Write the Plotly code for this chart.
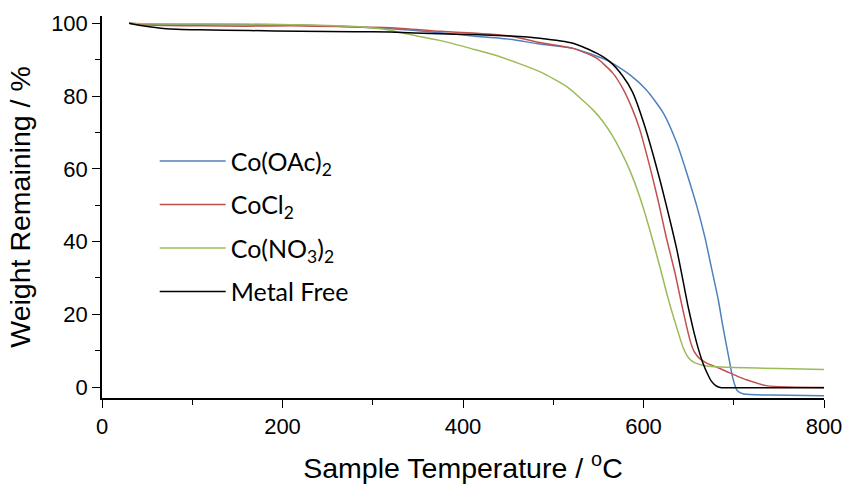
import plotly.graph_objects as go

# ---- data ----
names = ["Co(OAc)<sub>2</sub>", "CoCl<sub>2</sub>", "Co(NO<sub>3</sub>)<sub>2</sub>", "Metal Free"]
colors = ["#4F81BD", "#C0504D", "#9BBB59", "#000000"]

t_oac = [30, 45, 70, 110, 160, 210, 260, 320, 375, 411, 452, 485, 522, 559, 585, 603, 622, 637, 648, 659, 668, 675, 683, 688, 694, 699, 704, 711, 740, 800]
w_oac = [100, 99.8, 99.7, 99.7, 99.6, 99.6, 99.2, 98.5, 97.4, 96.5, 95.6, 94.3, 93.1, 89.9, 85.8, 81.7, 75.3, 67.0, 58.8, 49.8, 41.2, 33.1, 23.8, 16.6, 8.8, 2.4, -1.0, -1.9, -2.2, -2.4]

t_cl = [30, 45, 70, 110, 160, 210, 260, 320, 375, 411, 452, 485, 522, 548, 566, 577, 588, 596, 607, 616, 625, 635, 642, 648, 652, 656, 662, 670, 681, 692, 703, 714, 736, 760, 800]
w_cl = [100, 99.6, 99.4, 99.3, 99.2, 99.3, 99.1, 98.8, 97.8, 97.3, 96.5, 94.7, 93.1, 90.4, 86.3, 82.1, 76.2, 70.7, 60.6, 51.5, 41.4, 31.3, 23.1, 16.4, 12.5, 9.8, 7.9, 6.6, 5.5, 4.3, 3.1, 2.0, 0.4, 0.0, -0.1]

t_no3 = [30, 45, 70, 110, 160, 210, 250, 282, 319, 337, 374, 411, 441, 485, 515, 544, 555, 565, 575, 585, 596, 607, 618, 627, 637, 644, 650, 656, 670, 700, 750, 800]
w_no3 = [100, 99.9, 99.8, 99.8, 99.8, 99.6, 99.4, 99.1, 98.1, 97.1, 95.3, 92.9, 90.8, 86.7, 82.6, 76.2, 73.0, 69.3, 64.8, 59.5, 52.2, 43.2, 33.2, 24.6, 16.2, 10.8, 8.0, 6.8, 5.8, 5.4, 5.1, 4.8]

t_mf = [30, 45, 71, 108, 164, 219, 280, 319, 374, 411, 452, 485, 522, 548, 563, 577, 588, 600, 611, 620, 629, 637, 644, 649, 655, 660, 666, 671, 675, 680, 685, 700, 800]
w_mf = [100, 99.3, 98.5, 98.2, 98.0, 97.8, 97.7, 97.6, 97.1, 96.9, 96.5, 95.9, 94.5, 91.8, 89.4, 85.5, 81.0, 72.8, 63.6, 55.2, 46.2, 37.7, 29.0, 22.6, 16.0, 11.2, 6.5, 3.6, 1.7, 0.4, -0.1, -0.2, -0.2]

series_t = [t_oac, t_cl, t_no3, t_mf]
series_w = [w_oac, w_cl, w_no3, w_mf]

x_ticks = [0, 200, 400, 600, 800]
y_ticks = [0, 20, 40, 60, 80, 100]

fig = go.Figure()
for i in range(4):
    fig.add_trace(go.Scatter(
        x=series_t[i], y=series_w[i], mode="lines", name=names[i],
        legendgroup=f"g{i}",
        line=dict(color=colors[i], width=1.5, shape="spline", smoothing=0.6),
    ))

tick_font = dict(family="Liberation Sans, Arial", size=22, color="#000000")
title_font = dict(family="Liberation Sans, Arial", size=28.5, color="#000000")

fig.update_layout(
    width=848, height=488,
    margin=dict(l=102, r=24, t=16, b=90),
    plot_bgcolor="#FFFFFF", paper_bgcolor="#FFFFFF",
    showlegend=True,
    legend=dict(
        x=0.073, y=0.68, xanchor="left", yanchor="top",
        font=dict(family="Lato", size=25, color="#000000"),
        itemwidth=66, tracegroupgap=8,
        bgcolor="rgba(0,0,0,0)",
    ),
    xaxis=dict(
        range=[0, 800], tickvals=x_ticks, ticktext=[str(v) for v in x_ticks],
        showline=True, linecolor="#000000", linewidth=1.5, mirror=False,
        ticks="outside", ticklen=8, tickwidth=1.2, tickcolor="#000000",
        minor=dict(ticks="outside", ticklen=5, tickwidth=1, tickcolor="#000000", dtick=100, showgrid=False),
        showgrid=False, zeroline=False, tickfont=tick_font, automargin=False,
        title=dict(text="Sample Temperature / <sup>o</sup>C", font=title_font, standoff=20),
    ),
    yaxis=dict(
        range=[-3, 102], tickvals=y_ticks, ticktext=[str(v) for v in y_ticks],
        showline=True, linecolor="#000000", linewidth=1.5, mirror=False,
        ticks="outside", ticklen=8, tickwidth=1.2, tickcolor="#000000",
        minor=dict(ticks="outside", ticklen=5, tickwidth=1, tickcolor="#000000", dtick=10, showgrid=False),
        showgrid=False, zeroline=False, tickfont=tick_font, automargin=False,
        title=dict(text="Weight Remaining / %", font=title_font, standoff=12),
    ),
)

fig.write_html("out.html")
